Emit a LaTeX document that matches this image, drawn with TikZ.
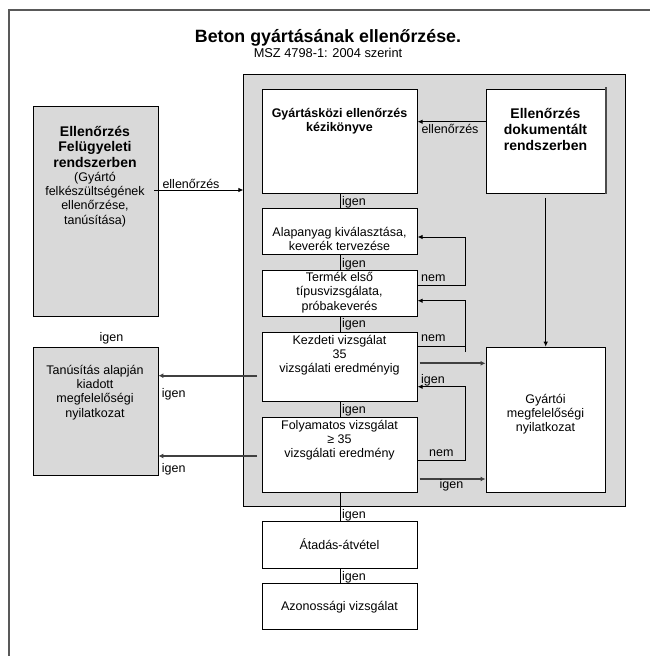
\documentclass[tikz,border=0pt]{standalone}
\usepackage{fontspec}
\setmainfont{Liberation Sans}
\usetikzlibrary{arrows.meta,calc}
\definecolor{panel}{RGB}{217,217,217}
\definecolor{darkline}{RGB}{64,64,64}
\newcommand\bodyfs{\fontsize{12.5}{14.3}\selectfont}
\newcommand\boldfs{\fontsize{14}{15.5}\selectfont\bfseries}
\begin{document}
\begin{tikzpicture}[x=1pt,y=-1pt,
  box/.style={draw=black, line width=0.9pt, fill=white, anchor=north west, inner sep=0pt},
  graybox/.style={box, fill=panel},
  txt/.style={font=\bodyfs, align=center, inner sep=0pt, anchor=base},
  btxt/.style={font=\boldfs, align=center, inner sep=0pt, anchor=base},
  lbl/.style={font=\bodyfs, inner sep=0pt, anchor=base west},
  conn/.style={draw=black, line width=0.9pt},
  arr/.style={conn, -{Latex[length=5pt,width=4.5pt]}},
  thickarr/.style={draw=darkline, line width=1.7pt, -{Latex[length=5pt,width=5pt]}}
]
\useasboundingbox (0,0) rectangle (650,656);
\fill[white] (0,0) rectangle (650,656);
\begin{scope}
\clip (0,0) rectangle (650,656);
\draw[gray!70!black, line width=1.6pt] (9,10) rectangle (700,700);
\end{scope}

% titles
\node[font=\fontsize{17.8}{20}\selectfont\bfseries, inner sep=0pt, anchor=base] (title) at (328,42) {Beton gyártásának ellenőrzése.};
\node[font=\fontsize{12.8}{14}\selectfont, inner sep=0pt, anchor=base] (subtitle) at (328,57) {MSZ 4798-1: 2004 szerint};

% big gray panel
\node[box, fill=panel, minimum width=381.4pt, minimum height=432pt] (panel) at (243.4,74) {};

% boxes
\node[graybox, minimum width=124.5pt, minimum height=210.5pt] (L1) at (33,105.5) {};
\node[graybox, minimum width=124.5pt, minimum height=127.7pt] (T) at (33,347.3) {};
\node[box, minimum width=154.3pt, minimum height=104pt] (G) at (262.4,89) {};
\node[box, minimum width=119.5pt, minimum height=104pt] (D) at (485.5,89) {};
\node[box, minimum width=154.3pt, minimum height=46pt] (A) at (262.4,208) {};
\node[box, minimum width=154.3pt, minimum height=46pt] (Te) at (262.4,270) {};
\node[box, minimum width=154.3pt, minimum height=69.3pt] (K) at (262.4,331.7) {};
\node[box, minimum width=154.3pt, minimum height=75pt] (F) at (262.4,416.7) {};
\node[box, minimum width=119.5pt, minimum height=145pt] (Gy) at (485.5,346.7) {};
\node[box, minimum width=154.3pt, minimum height=47.3pt] (At) at (262.4,521) {};
\node[box, minimum width=154.3pt, minimum height=45.7pt] (Az) at (262.4,583.3) {};

% shadow edge of D
\draw[gray!60!black, line width=1.5pt] ([yshift=2pt]D.north east) -- (D.south east);

% texts in boxes (anchor = baseline of the last line)
\node[btxt] (L1a) at (95,167) {Ellenőrzés\\Felügyeleti\\rendszerben};
\node[txt] (L1b) at (95,224) {(Gyártó\\felkészültségének\\ellenőrzése,\\tanúsítása)};
\node[txt] (Tt) at (95,417) {Tanúsítás alapján\\kiadott\\megfelelőségi\\nyilatkozat};
\node[font=\fontsize{12.5}{14}\selectfont\bfseries, align=center, inner sep=0pt, anchor=base] (Gt) at (339.5,131.5) {Gyártásközi ellenőrzés\\kézikönyve};
\node[font=\fontsize{14}{16}\selectfont\bfseries, align=center, inner sep=0pt, anchor=base] (Dt) at (545.5,150.5) {Ellenőrzés\\dokumentált\\rendszerben};
\node[txt] (At1) at (339.5,250.3) {Alapanyag kiválasztása,\\keverék tervezése};
\node[txt] (Tet) at (339.5,310) {Termék első\\típusvizsgálata,\\próbakeverés};
\node[txt] (Kt) at (339.5,372.6) {Kezdeti vizsgálat\\35\\vizsgálati eredményig};
\node[txt] (Ft) at (339.5,457.6) {Folyamatos vizsgálat\\≥ 35\\vizsgálati eredmény};
\node[txt] (Gyt) at (545.5,431.6) {Gyártói\\megfelelőségi\\nyilatkozat};
\node[txt] (Att) at (339.5,549) {Átadás-átvétel};
\node[txt] (Azt) at (339.5,610) {Azonossági vizsgálat};

% helper coordinates
\coordinate (y190) at (0,190);
\coordinate (y122) at (0,121.7);
\coordinate (y237) at (0,237);
\coordinate (y285) at (0,285);
\coordinate (y301) at (0,300.7);
\coordinate (y347) at (0,346.7);
\coordinate (y352) at (0,352);
\coordinate (y363) at (0,363.3);
\coordinate (y376) at (0,375.7);
\coordinate (y387) at (0,386.7);
\coordinate (y456) at (0,456);
\coordinate (y460) at (0,460);
\coordinate (y479) at (0,479);
\coordinate (xloop) at (465,0);
\coordinate (xL) at (257,0);
\coordinate (xR) at (419.6,0);
\coordinate (xL1) at (154,0);

% connectors
\draw[arr] (xL1 |- y190) -- (panel.west |- y190);
\node[lbl, anchor=base] (lab1) at (191,188.5) {ellenőrzés};
\draw[arr] (D.west |- y122) -- (G.east |- y122);
\node[lbl, anchor=base] (lab2) at (450,133) {ellenőrzés};
\draw[arr] ([yshift=-4pt]D.south) -- (Gy.north);

\draw[conn] (G.south) -- (A.north);
\draw[conn] (A.south) -- (Te.north);
\draw[conn] (Te.south) -- (K.north);
\draw[conn] (K.south) -- (F.north);
\draw[conn] (F.south) -- (At.north);
\draw[conn] (At.south) -- (Az.north);
\node[lbl] at (342,205) {igen};
\node[lbl] at (342,267) {igen};
\node[lbl] at (342,327) {igen};
\node[lbl] at (342,413) {igen};
\node[lbl] at (342,518) {igen};
\node[lbl] at (342,580) {igen};

% loops
\draw[arr] (Te.east |- y285) -- (xloop |- y285) -- (xloop |- y237) -- (A.east |- y237);
\node[lbl] at (421,281) {nem};
\draw[conn] (K.east |- y347) -- (xloop |- y347);
\draw[arr] (xloop |- y352) -- (xloop |- y301) -- (Te.east |- y301);
\node[lbl] at (421,341) {nem};
\draw[arr] (F.east |- y460) -- (xloop |- y460) -- (xloop |- y387) -- (K.east |- y387);
\node[lbl] at (421,383) {igen};
\node[lbl] at (429,456.5) {nem};

% to Gyártói
\draw[thickarr] (xR |- y363) -- (Gy.west |- y363);
\draw[thickarr] (xR |- y479) -- (Gy.west |- y479);
\node[lbl] at (439.5,488) {igen};

% to Tanúsítás
\draw[thickarr] (xL |- y376) -- (T.east |- y376);
\draw[thickarr] (xL |- y456) -- (T.east |- y456);
\node[lbl] at (161.7,397) {igen};
\node[lbl] at (161.7,472) {igen};
\node[lbl, anchor=base] at (111.5,341) {igen};
\end{tikzpicture}
\end{document}
